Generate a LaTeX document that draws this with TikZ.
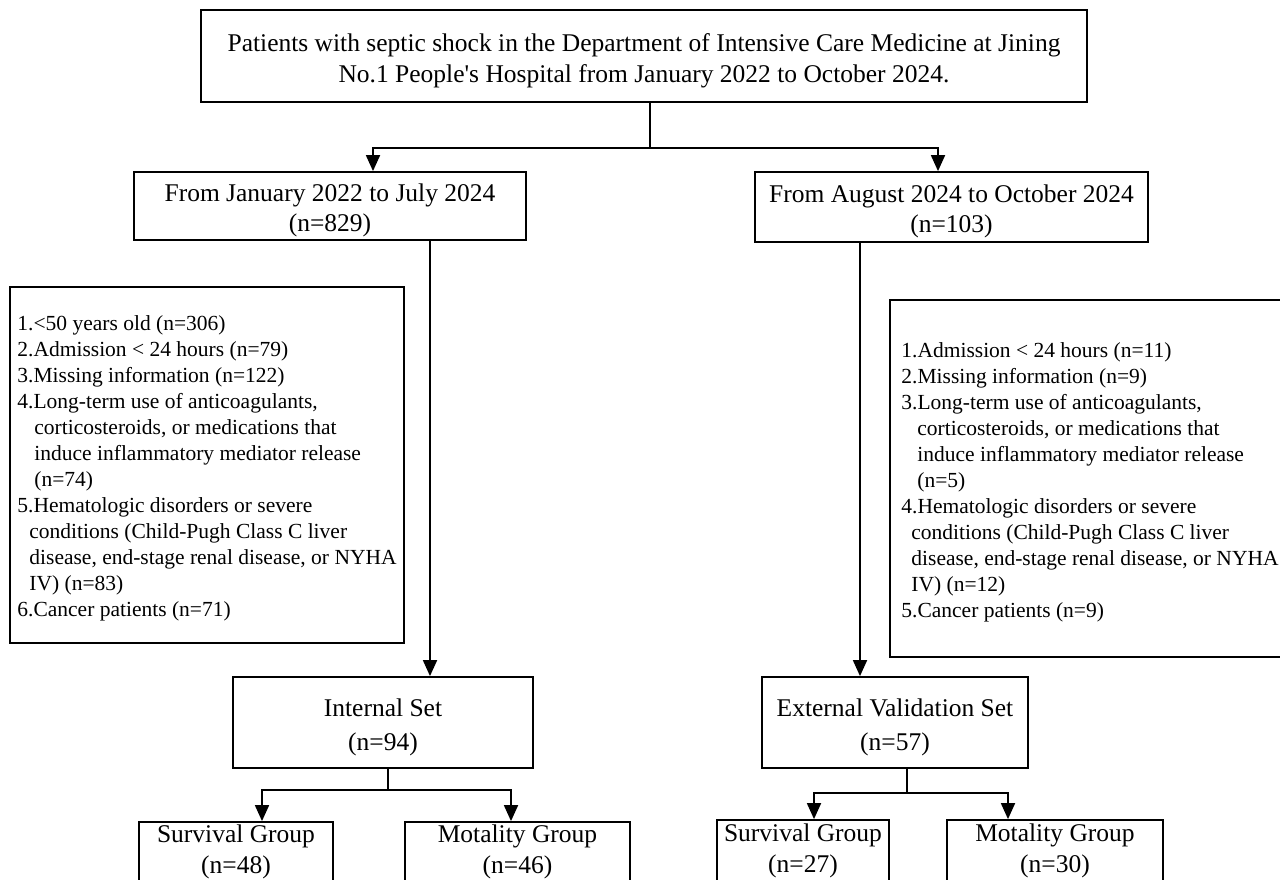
\documentclass[tikz,border=0pt]{standalone}
\usepackage{fontspec}
\setmainfont{Liberation Serif}
\usetikzlibrary{arrows.meta}
\newcommand\bxs{\rule{0pt}{27pt}}
\newcommand\exs{\rule{0pt}{22pt}}
\begin{document}
\begin{tikzpicture}[x=1pt,y=-1pt,
  box/.style={draw, line width=1.8pt, inner sep=0pt, align=center,
    font=\fontsize{25.5pt}{30pt}\selectfont},
  excl/.style={draw, line width=1.8pt, inner sep=0pt, align=left,
    font=\fontsize{21.5pt}{26pt}\selectfont},
  ln/.style={line width=1.8pt},
  arr/.style={line width=1.8pt, -{Triangle[length=16pt,width=14pt]}}]
\useasboundingbox (0,0) rectangle (1280,880);
\clip (0,0) rectangle (1280,880);
\fill[white] (0,0) rectangle (1280,880);

\node[box, minimum width=886pt, minimum height=92pt] (top) at (644,56)
  {\bxs Patients with septic shock in the Department of Intensive Care Medicine at Jining\\[1pt]
   No.1 People\textquotesingle s Hospital from January 2022 to October 2024.};

\node[box, minimum width=392pt, minimum height=68pt] (jan) at (330,206)
  {\bxs From January 2022 to July 2024\\(n=829)};
\node[box, minimum width=393pt, minimum height=70pt] (aug) at (951.5,207)
  {\bxs From August 2024 to October 2024\\(n=103)};

\node[excl, minimum width=394pt, minimum height=356pt] (ex1) at (207,465)
  {\exs 1.<50 years old (n=306)\\
   2.Admission < 24 hours (n=79)\\
   3.Missing information (n=122)\\
   4.Long-term use of anticoagulants,\\
   \hspace*{17pt}corticosteroids, or medications that\\
   \hspace*{17pt}induce inflammatory mediator release\\
   \hspace*{17pt}(n=74)\\
   5.Hematologic disorders or severe\\
   \hspace*{12pt}conditions (Child-Pugh Class C liver\\
   \hspace*{12pt}disease, end-stage renal disease, or NYHA\\
   \hspace*{12pt}IV) (n=83)\\
   6.Cancer patients (n=71)};

\node[excl, minimum width=400pt, minimum height=357pt] (ex2) at (1090,478.5)
  {\exs 1.Admission < 24 hours (n=11)\\
   2.Missing information (n=9)\\
   3.Long-term use of anticoagulants,\\
   \hspace*{16pt}corticosteroids, or medications that\\
   \hspace*{16pt}induce inflammatory mediator release\\
   \hspace*{16pt}(n=5)\\
   4.Hematologic disorders or severe\\
   \hspace*{10pt}conditions (Child-Pugh Class C liver\\
   \hspace*{10pt}disease, end-stage renal disease, or NYHA\\
   \hspace*{10pt}IV) (n=12)\\
   5.Cancer patients (n=9)};

\node[box, minimum width=300pt, minimum height=91pt] (int) at (383,722.5)
  {\bxs Internal Set\\[4pt](n=94)};
\node[box, minimum width=266pt, minimum height=91pt] (ext) at (895,722.5)
  {\bxs External Validation Set\\[4pt](n=57)};

\node[box, minimum width=194pt, minimum height=60pt] (s1) at (236,852)
  {Survival Group\\[1pt](n=48)};
\node[box, minimum width=225pt, minimum height=60pt] (m1) at (517.5,852)
  {Motality Group\\[1pt](n=46)};
\node[box, minimum width=172pt, minimum height=62pt] (s2) at (803,851)
  {Survival Group\\[1pt](n=27)};
\node[box, minimum width=216pt, minimum height=62pt] (m2) at (1055,851)
  {Motality Group\\[1pt](n=30)};

% top split
\draw[ln] ([xshift=6pt]top.south) -- ++(0,45) coordinate (sp0);
\draw[arr] (sp0) -| ([xshift=43pt]jan.north);
\draw[arr] (sp0) -| ([xshift=-13.5pt]aug.north);

% down to sets
\draw[arr] ([xshift=100pt]jan.south) -- ([xshift=100pt]jan.south |- int.north);
\draw[arr] ([xshift=-91.5pt]aug.south) -- ([xshift=-91.5pt]aug.south |- ext.north);

% internal split
\draw[ln] ([xshift=5pt]int.south) -- ++(0,21) coordinate (sp1);
\draw[arr] (sp1) -| ([xshift=26pt]s1.north);
\draw[arr] (sp1) -| ([xshift=-6.5pt]m1.north);

% external split
\draw[ln] ([xshift=12pt]ext.south) -- ++(0,24) coordinate (sp2);
\draw[arr] (sp2) -| ([xshift=11pt]s2.north);
\draw[arr] (sp2) -| ([xshift=-47pt]m2.north);
\end{tikzpicture}
\end{document}
